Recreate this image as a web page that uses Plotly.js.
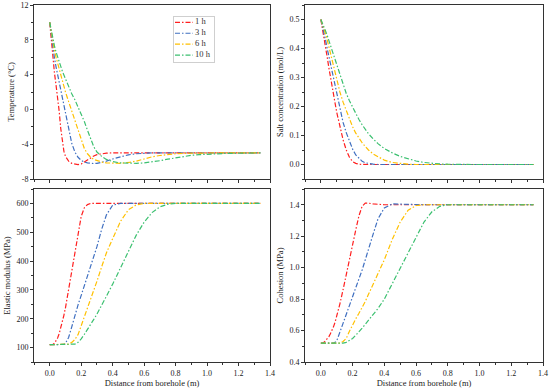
<!DOCTYPE html>
<html>
<head>
<meta charset="utf-8">
<script src="https://cdn.plot.ly/plotly-3.0.1.min.js"></script>
<style>html,body{margin:0;padding:0;background:#fff;}#chart{width:550px;height:388px;}</style>
</head>
<body>
<div id="chart"></div>
<script>
// ---------- data ----------
const distance = [0,0.01,0.02,0.03,0.04,0.05,0.06,0.07,0.08,0.09,
  0.10,0.12,0.14,0.16,0.18,0.20,0.22,0.24,0.26,0.28,
  0.30,0.33,0.36,0.40,0.45,0.50,0.55,0.60,0.65,0.70,
  0.75,0.80,0.85,0.90,0.95,1.00,1.05,1.10,1.15,1.20,
  1.25,1.30,1.34];

const timeLabels = ['1 h','3 h','6 h','10 h'];

const temp1h = [10,7.7,5.7,4.2,2.8,1.4,-0.2,-2.2,-3.9,-4.8,
  -5.4,-5.95,-6.2,-6.32,-6.35,-6.28,-6.05,-5.8,-5.55,-5.35,
  -5.2,-5.08,-5.03,-5.0,-5,-5,-5,-5,-5,-5,
  -5,-5,-5,-5,-5,-5,-5,-5,-5,-5,
  -5,-5,-5];
const temp3h = [10,8.4,7.0,5.9,4.9,4.0,3.1,2.3,1.5,0.7,
  -0.1,-2.3,-3.9,-4.9,-5.5,-5.85,-6.05,-6.15,-6.2,-6.22,
  -6.2,-6.1,-5.95,-5.7,-5.45,-5.22,-5.1,-5.03,-5.0,-5,
  -5,-5,-5,-5,-5,-5,-5,-5,-5,-5,
  -5,-5,-5];
const temp6h = [10,8.8,7.7,6.8,6.0,5.3,4.6,3.9,3.2,2.6,
  2.0,0.9,-0.2,-1.3,-2.5,-3.6,-4.5,-5.1,-5.5,-5.75,
  -5.9,-6.05,-6.15,-6.2,-6.2,-6.1,-5.95,-5.7,-5.45,-5.3,
  -5.18,-5.1,-5.05,-5.02,-5,-5,-5,-5,-5,-5,
  -5,-5,-5];
const temp10h = [10,9.0,8.1,7.3,6.6,6.0,5.4,4.9,4.4,3.95,
  3.5,2.6,1.8,1.1,0.3,-0.5,-1.4,-2.4,-3.4,-4.3,
  -4.9,-5.4,-5.75,-6.0,-6.15,-6.2,-6.2,-6.15,-6.05,-5.9,
  -5.72,-5.55,-5.4,-5.28,-5.2,-5.14,-5.1,-5.07,-5.05,-5.03,
  -5.02,-5.0,-5.0];

const salt1h = [0.5,0.47,0.44,0.405,0.37,0.335,0.30,0.27,0.24,0.21,
  0.18,0.13,0.085,0.05,0.025,0.01,0.004,0.001,0,0,
  0,0,0,0,0,0,0,0,0,0,
  0,0,0,0,0,0,0,0,0,0,
  0,0,0];
const salt3h = [0.5,0.478,0.455,0.428,0.40,0.375,0.35,0.32,0.29,0.265,
  0.24,0.19,0.145,0.11,0.078,0.053,0.033,0.02,0.011,0.006,
  0.003,0.001,0,0,0,0,0,0,0,0,
  0,0,0,0,0,0,0,0,0,0,
  0,0,0];
const salt6h = [0.5,0.485,0.47,0.45,0.43,0.408,0.385,0.362,0.34,0.315,
  0.29,0.25,0.215,0.185,0.155,0.13,0.108,0.09,0.075,0.062,
  0.05,0.036,0.026,0.015,0.007,0.003,0.001,0,0,0,
  0,0,0,0,0,0,0,0,0,0,
  0,0,0];
const salt10h = [0.5,0.488,0.475,0.46,0.445,0.428,0.41,0.392,0.375,0.357,
  0.34,0.305,0.275,0.245,0.22,0.197,0.175,0.155,0.137,0.12,
  0.106,0.088,0.072,0.055,0.04,0.028,0.019,0.012,0.007,0.004,
  0.002,0.001,0,0,0,0,0,0,0,0,
  0,0,0];

const elastic1h = [110,110,111,115,122,133,148,167,188,212,
  238,300,360,425,495,555,585,596,600,600,
  600,600,600,600,600,600,600,600,600,600,
  600,600,600,600,600,600,600,600,600,600,
  600,600,600];
const elastic3h = [110,110,110,110,110,110,110,110,110,111,
  115,135,172,212,248,281,314,347,380,412,
  450,510,560,594,600,600,600,600,600,600,
  600,600,600,600,600,600,600,600,600,600,
  600,600,600];
const elastic6h = [110,110,110,110,110,110,110,110,110,110,
  110,112,118,128,145,175,205,235,265,297,
  330,380,428,478,538,578,595,600,600,600,
  600,600,600,600,600,600,600,600,600,600,
  600,600,600];
const elastic10h = [110,110,110,110,110,110,110,110,110,110,
  110,110,110,112,118,130,146,162,180,198,
  216,245,278,320,378,435,490,535,568,588,
  597,600,600,600,600,600,600,600,600,600,
  600,600,600];

const cohesion1h = [0.52,0.52,0.525,0.535,0.545,0.56,0.58,0.60,0.625,0.655,
  0.69,0.77,0.86,0.96,1.05,1.14,1.24,1.33,1.39,1.41,
  1.41,1.405,1.402,1.40,1.4,1.4,1.4,1.4,1.4,1.4,
  1.4,1.4,1.4,1.4,1.4,1.4,1.4,1.4,1.4,1.4,
  1.4,1.4,1.4];
const cohesion3h = [0.52,0.52,0.52,0.52,0.52,0.52,0.52,0.52,0.52,0.525,
  0.535,0.59,0.645,0.70,0.755,0.81,0.865,0.925,0.985,1.05,
  1.12,1.215,1.31,1.38,1.405,1.403,1.40,1.4,1.4,1.4,
  1.4,1.4,1.4,1.4,1.4,1.4,1.4,1.4,1.4,1.4,
  1.4,1.4,1.4];
const cohesion6h = [0.52,0.52,0.52,0.52,0.52,0.52,0.52,0.52,0.52,0.52,
  0.52,0.52,0.53,0.55,0.595,0.64,0.675,0.71,0.745,0.785,
  0.83,0.895,0.965,1.05,1.18,1.29,1.365,1.395,1.40,1.4,
  1.4,1.4,1.4,1.4,1.4,1.4,1.4,1.4,1.4,1.4,
  1.4,1.4,1.4];
const cohesion10h = [0.52,0.52,0.52,0.52,0.52,0.52,0.52,0.52,0.52,0.52,
  0.52,0.52,0.52,0.525,0.535,0.55,0.57,0.59,0.615,0.64,
  0.665,0.70,0.74,0.80,0.90,1.0,1.10,1.20,1.29,1.355,
  1.39,1.40,1.4,1.4,1.4,1.4,1.4,1.4,1.4,1.4,
  1.4,1.4,1.4];

const tempTickVals = [-8,-4,0,4,8,12];
const tempTickText = ['-8','-4','0','4','8','12'];

// ---------- styling ----------
const colors = ['#ff1f1f','#3f6fc0','#ffc000','#3cc070'];
const FONT = 'Liberation Serif, Times New Roman, serif';
const dashStyle = '5px,2px,1.5px,2px';
const TITLE_SIZE = 8.5;

const panels = [
  {x:'x',  y:'y',  series:[temp1h,temp3h,temp6h,temp10h]},
  {x:'x2', y:'y2', series:[salt1h,salt3h,salt6h,salt10h]},
  {x:'x3', y:'y3', series:[elastic1h,elastic3h,elastic6h,elastic10h]},
  {x:'x4', y:'y4', series:[cohesion1h,cohesion3h,cohesion6h,cohesion10h]}
];

const traces = [];
panels.forEach(p => {
  p.series.forEach((vals, i) => {
    traces.push({
      x: distance, y: vals, xaxis: p.x, yaxis: p.y,
      type: 'scatter', mode: 'lines', name: timeLabels[i], showlegend: false,
      line: {color: colors[i], width: 1.2, dash: dashStyle}
    });
  });
});

// legend drawn in a small inset axis
const legendRows = timeLabels.map((_, i) => i + 1);
timeLabels.forEach((lab, i) => {
  traces.push({
    x: [1, 19], y: [legendRows[i], legendRows[i]], xaxis: 'x5', yaxis: 'y5',
    type: 'scatter', mode: 'lines', showlegend: false, hoverinfo: 'skip',
    line: {color: colors[i], width: 1.2, dash: dashStyle}
  });
});
traces.push({
  x: timeLabels.map(() => 21), y: legendRows, xaxis: 'x5', yaxis: 'y5',
  type: 'scatter', mode: 'text', text: timeLabels, textposition: 'middle right',
  textfont: {family: FONT, size: 8.5, color: '#333'}, showlegend: false, hoverinfo: 'skip'
});

function xAx(domain, anchor, showLabels) {
  const a = {
    domain: domain, anchor: anchor, range: [-0.1, 1.4],
    tickvals: [0,0.2,0.4,0.6,0.8,1.0,1.2,1.4], tickformat: '.1f',
    showticklabels: showLabels, ticks: 'outside', ticklen: 3, tickwidth: 1, tickcolor: '#333',
    minor: {dtick: 0.1, tick0: 0, ticks: 'outside', ticklen: 2, tickcolor: '#333'},
    showline: true, linecolor: '#333', linewidth: 1, mirror: true,
    showgrid: false, zeroline: false,
    tickfont: {family: FONT, size: 8, color: '#222'}
  };
  if (showLabels) {
    a.title = {text: 'Distance from borehole (m)', font: {family: FONT, size: TITLE_SIZE, color: '#222'}, standoff: 5};
  }
  return a;
}
function yAx(domain, anchor, range, dtick, minorDtick, title, fmt) {
  return {
    domain: domain, anchor: anchor, range: range, dtick: dtick, tick0: 0, tickformat: fmt,
    ticks: 'outside', ticklen: 3, tickwidth: 1, tickcolor: '#333',
    minor: {dtick: minorDtick, tick0: 0, ticks: 'outside', ticklen: 2, tickcolor: '#333'},
    showline: true, linecolor: '#333', linewidth: 1, mirror: true,
    showgrid: false, zeroline: false,
    tickfont: {family: FONT, size: 8, color: '#222'},
    title: {text: title, font: {family: FONT, size: TITLE_SIZE, color: '#222'}, standoff: 4}
  };
}

const W = 550, H = 388;
const leftDom = [34/W, 270/W], rightDom = [305/W, 543/W];
const topDom = [1 - 179/H, 1 - 5/H], botDom = [1 - 362/H, 1 - 189/H];

const yTemp = yAx(topDom, 'x', [-8, 12], 4, 2, 'Temperature (°C)', '');
yTemp.tickvals = tempTickVals; yTemp.ticktext = tempTickText; delete yTemp.dtick;

const layout = {
  width: W, height: H,
  margin: {l: 0, r: 0, t: 0, b: 0},
  paper_bgcolor: '#fff', plot_bgcolor: '#fff',
  showlegend: false,
  xaxis: xAx(leftDom, 'y', false),
  yaxis: yTemp,
  xaxis2: xAx(rightDom, 'y2', false),
  yaxis2: yAx(topDom, 'x2', [-0.05, 0.55], 0.1, 0.05, 'Salt concentration (mol/L)', '.1f'),
  xaxis3: xAx(leftDom, 'y3', true),
  yaxis3: yAx(botDom, 'x3', [50, 650], 100, 50, 'Elastic modulus (MPa)', ''),
  xaxis4: xAx(rightDom, 'y4', true),
  yaxis4: yAx(botDom, 'x4', [0.4, 1.5], 0.2, 0.1, 'Cohesion (MPa)', '.1f'),
  xaxis5: {domain: [174/W, 214/W], anchor: 'y5', range: [0, 40], showticklabels: false, ticks: '',
    showline: true, mirror: true, linecolor: '#cfcfcf', linewidth: 1, showgrid: false, zeroline: false, fixedrange: true},
  yaxis5: {domain: [1 - 62/H, 1 - 17/H], anchor: 'x5', range: [4.64, 0.51], showticklabels: false, ticks: '',
    showline: true, mirror: true, linecolor: '#cfcfcf', linewidth: 1, showgrid: false, zeroline: false, fixedrange: true}
};

Plotly.newPlot('chart', traces, layout, {staticPlot: true, displayModeBar: false});
</script>
</body>
</html>
